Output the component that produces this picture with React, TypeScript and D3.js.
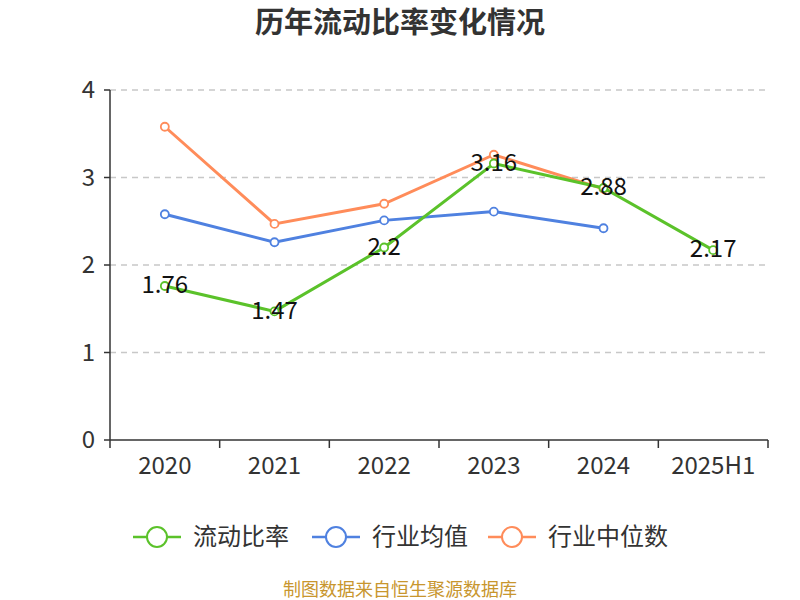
import React from "react";
import * as d3 from "d3";

const categories = ["2020", "2021", "2022", "2023", "2024", "2025H1"];
const currentRatio = [1.76, 1.47, 2.2, 3.16, 2.88, 2.17];
const industryMean = [2.58, 2.26, 2.51, 2.61, 2.42];
const industryMedian = [3.58, 2.47, 2.7, 3.26, 2.87];
const yTicks = [0, 1, 2, 3, 4];

const seriesNames = ["流动比率", "行业均值", "行业中位数"];
const colors = ["#5bc22a", "#4f81e0", "#ff8c5a"];

const font = "'Noto Sans CJK SC', 'Microsoft YaHei', sans-serif";

const width = 800;
const height = 600;
const margin = { left: 110, right: 32, top: 90, bottom: 160 };

export default function App() {
  const x = d3
    .scaleBand<string>()
    .domain(categories)
    .range([margin.left, width - margin.right]);
  const y = d3
    .scaleLinear()
    .domain([0, 4])
    .range([height - margin.bottom, margin.top]);

  const cx = (i: number) => (x(categories[i]) ?? 0) + x.bandwidth() / 2;
  const line = d3
    .line<number>()
    .x((_d, i) => cx(i))
    .y((d) => y(d));

  const series = [currentRatio, industryMean, industryMedian];
  const legendX = [133, 312, 488];

  return (
    <svg
      width={width}
      height={height}
      style={{ display: "block", position: "absolute", left: 0, top: 0 }}
      fontFamily={font}
    >
      <rect width={width} height={height} fill="#fff" />
      <text x={400} y={33} textAnchor="middle" fontSize={29} fontWeight="bold" fill="#333">
        历年流动比率变化情况
      </text>

      {/* grid */}
      {yTicks.map((t) =>
        t === 0 ? null : (
          <line
            key={t}
            x1={margin.left}
            x2={width - margin.right}
            y1={y(t)}
            y2={y(t)}
            stroke="#c8c8c8"
            strokeWidth={1.5}
            strokeDasharray="6,5"
          />
        )
      )}

      {/* y axis */}
      <line x1={margin.left} x2={margin.left} y1={y(0)} y2={y(4)} stroke="#333" strokeWidth={1.5} />
      {yTicks.map((t) => (
        <g key={t}>
          <line x1={margin.left - 6} x2={margin.left} y1={y(t)} y2={y(t)} stroke="#333" strokeWidth={1.5} />
          <text x={margin.left - 15} y={y(t)} dy="0.35em" textAnchor="end" fontSize={24} fill="#333">
            {t}
          </text>
        </g>
      ))}

      {/* x axis */}
      <line x1={margin.left} x2={width - margin.right} y1={y(0)} y2={y(0)} stroke="#333" strokeWidth={1.5} />
      {[...categories.map((c) => x(c) ?? 0), width - margin.right].map((px, i) => (
        <line key={"t" + i} x1={px} x2={px} y1={y(0)} y2={y(0) + 8} stroke="#333" strokeWidth={1.5} />
      ))}
      {categories.map((c, i) => (
        <text key={c} x={cx(i)} y={y(0) + 34} textAnchor="middle" fontSize={24} fill="#333">
          {c}
        </text>
      ))}

      {/* lines, drawn median, mean, then ratio on top */}
      {[2, 1, 0].map((s) => (
        <g key={s}>
          <path d={line(series[s]) ?? ""} fill="none" stroke={colors[s]} strokeWidth={3} />
          {series[s].map((v, i) => (
            <circle key={i} cx={cx(i)} cy={y(v)} r={4} fill="#fff" stroke={colors[s]} strokeWidth={1.8} />
          ))}
        </g>
      ))}

      {/* data labels */}
      {currentRatio.map((v, i) => (
        <text key={i} x={cx(i)} y={y(v)} dy="0.3em" textAnchor="middle" fontSize={24} fill="#111">
          {String(v)}
        </text>
      ))}

      {/* legend */}
      {seriesNames.map((n, i) => (
        <g key={n}>
          <line x1={legendX[i]} x2={legendX[i] + 48} y1={537} y2={537} stroke={colors[i]} strokeWidth={2.5} />
          <circle cx={legendX[i] + 24} cy={537} r={10} fill="#fff" stroke={colors[i]} strokeWidth={2} />
          <text x={legendX[i] + 60} y={537} dy="0.35em" fontSize={24} fill="#333">
            {n}
          </text>
        </g>
      ))}

      <text x={400} y={590} dy="0.35em" textAnchor="middle" fontSize={18} fill="#c8962e">
        制图数据来自恒生聚源数据库
      </text>
    </svg>
  );
}
